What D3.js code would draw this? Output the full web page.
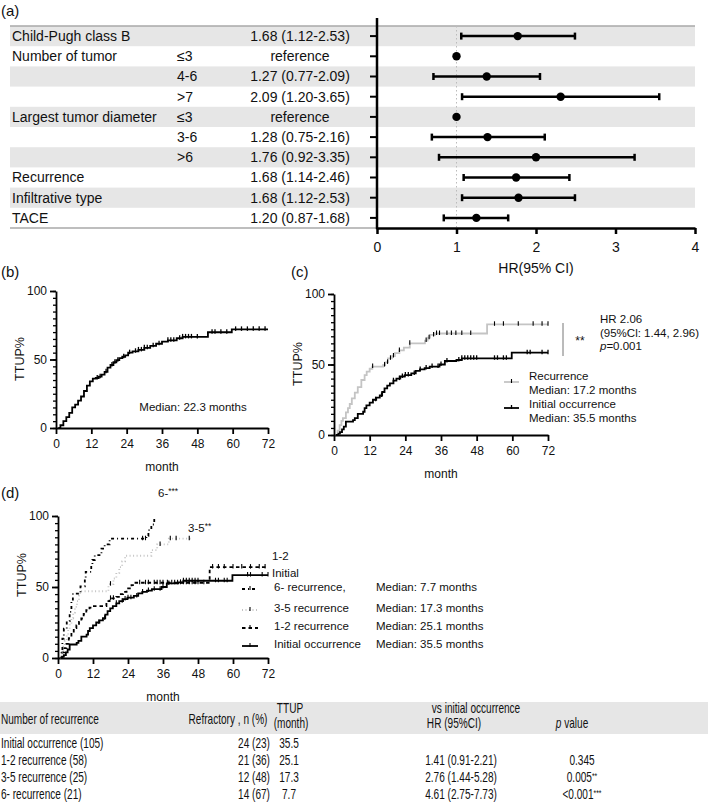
<!DOCTYPE html>
<html><head><meta charset="utf-8">
<script src="https://cdn.jsdelivr.net/npm/d3@7"></script>
<style>
body{margin:0;background:#fff;}
svg{display:block;font-family:"Liberation Sans",Arial,Helvetica,sans-serif;}
</style></head><body>
<script>
// ---------- DATA ----------
// (a) forest plot
const forestLabels = ["Child-Pugh class B","Number of tumor","","","Largest tumor diameter","","","Recurrence","Infiltrative type","TACE"];
const forestSub = ["","≤3","4-6",">7","≤3","3-6",">6","","",""];
const forestText = ["1.68 (1.12-2.53)","reference","1.27 (0.77-2.09)","2.09 (1.20-3.65)","reference","1.28 (0.75-2.16)","1.76 (0.92-3.35)","1.68 (1.14-2.46)","1.68 (1.12-2.53)","1.20 (0.87-1.68)"];
const forestHR = [1.77,1.00,1.38,2.31,1.00,1.39,2.00,1.75,1.78,1.25];
const forestLo = [1.06,null,0.71,1.07,null,0.69,0.78,1.09,1.07,0.84];
const forestHi = [2.49,null,2.05,3.55,null,2.11,3.24,2.42,2.49,1.65];
const forestTicks = [0,1,2,3,4];

// KM axes
const monthTicks = [0,12,24,36,48,60,72];
const pctTicks = [0,50,100];

// (b) all patients
const allMonths = [0.8,1.5,2.5,3.5,4.5,5.5,6.5,7.5,8.5,9.5,10.5,11.5,12.5,13.5,14.5,15.5,16.5,17.5,18.5,19.5,20.5,21.5,22.5,23.5,24.5,26,28,30,32,34,36,38,41,43,51.6,59.7,72];
const allValues = [0,2,5,8,11,15,17,20,23,27,31,34,36,36.5,37.5,39,41,44,46,48,49.5,51,52,53,55,56,57,58.5,60,61.5,63,64,65.5,66.5,69.9,72,72];
const allCensor = [14,15,17,19,20,21,23,25,27,28,29,30,31,33,35,38,39,40,42,43,44,45,46,48,53,54,56,58,61,63,65,67,69,71];

// (c) recurrence vs initial
const recMonths = [0.6,1.2,1.9,2.5,3,4,4.7,5.3,6,7,8,9.2,10.3,11,12,12.9,16.5,17.2,18.2,19.5,20.5,22,23.5,25.5,30.6,31.5,32.3,34,51.5,72];
const recValues = [0,3,7,10,12,16,19,22,26,30,34,39,42.5,45,47,48.5,49.6,51.5,54.4,56,58,60,62,65,67,69,71,72,78.5,78.5];
const recCensor = [13,17,18,19,20,22,25.5,31,32,33.5,34.5,35.5,38,39.5,41,43,46,54,57,62,67,70,72];
const initMonths = [0.6,1.5,2,2.7,3.3,4,6.4,7,8,9.8,10.3,10.9,12,13.1,14.2,15.4,16.2,17,17.9,18.8,20,21,22.3,23.8,26,27.5,28.9,30.5,32.2,35.5,37.3,41.2,43,59.8,72];
const initValues = [0,1,2,4,6,9.5,10.6,12,15,16.5,19,21,23,25,26.5,28,30.5,33,35,36.6,38.5,40,41.5,42.5,43.7,45.5,46.5,47.5,48.5,50,52.5,53.2,54.4,58.4,58.4];
const initCensor = [14,16,20,22,23,24,25,27,29,31,33,35,36,38,42,43,44,45,46,47,48,54,55,57,58,65,66,70,72];

// (d) by number of recurrence
const r6Months = [0.8,1.2,1.5,2,3,4,4.6,5.1,7.7,9.2,9.5,11.4,11.8,12.6,14.9,16,17.7,30.3,31,32,33];
const r6Values = [0,5.4,13.7,20.7,26,32.5,39.5,45.4,50.5,56,60.7,66,69,72.5,77,80,84,86,90,94,100];
const r6Censor = [29,30];
const r35Months = [0.8,1.2,1.8,2.3,3,3.5,4,4.6,5.2,5.8,6.5,7.2,7.6,16.5,17.3,19,20,21,22,23,31,32,34,38,46];
const r35Values = [0,4,8,12,16,20,24,28,32,36,40,44,47,47,52,56,60,64,68,72,72,76,80,84,84];
const r35Censor = [18,35,38.5,40.5,45];
const r12Months = [0.8,1.5,2.2,2.9,3.7,4.6,5.4,6.3,7.2,8,8.8,9.7,10.8,12,16.6,17.7,20,21.2,22.3,23.5,25.2,25.7,51.4,52,72];
const r12Values = [0,4,7,10,14,18,21,23,25.5,27.8,31,33.7,35.5,36.5,40,42,43,45,46.6,49,51.3,53,53,64,64];
const r12Censor = [18,19,28,30,31,33,34,35,36,37.5,39,40,41,42,43,44,45,46,47,48,50,53,55,57,60,63,66,69,71];

// table
const tableGroups = ["Initial occurrence (105)","1-2 recurrence (58)","3-5 recurrence (25)","6- recurrence (21)"];
const tableRefractory = ["24 (23)","21 (36)","12 (48)","14 (67)"];
const tableTTUP = ["35.5","25.1","17.3","7.7"];
const tableHR = ["","1.41 (0.91-2.21)","2.76 (1.44-5.28)","4.61 (2.75-7.73)"];
const tableP = ["","0.345","0.005","<0.001"];
const tableStars = ["","","**","***"];

// ---------- DRAW ----------
const svg = d3.select("body").append("svg").attr("width",708).attr("height",811);

function txt(g,x,y,s,o={}){
  const t=g.append("text").attr("x",x).attr("y",y).attr("dy","0.35em").text(s)
    .attr("font-size",o.size||14).attr("fill",o.fill||"#111");
  if(o.anchor) t.attr("text-anchor",o.anchor);
  if(o.style) t.attr("font-style",o.style);
  return t;
}
// condensed text (table)
const NX=0.72;
function txtN(g,x,y,s,o={}){
  const t=g.append("text").attr("transform",`translate(${x},${y}) scale(${NX},1)`).attr("dy","0.35em").text(s)
    .attr("font-size",o.size||14).attr("fill","#111");
  if(o.anchor) t.attr("text-anchor",o.anchor);
  return t;
}

// ----- (a) forest -----
const fa = svg.append("g");
txt(fa,1,11,"(a)",{size:15});
const fx = d3.scaleLinear().domain([0,4]).range([377,695]);
const fy = d3.scaleBand().domain(d3.range(forestLabels.length)).range([26,228]);
forestLabels.forEach((l,i)=>{
  if(i%2===0) fa.append("rect").attr("x",10).attr("y",fy(i)).attr("width",685).attr("height",fy.bandwidth()).attr("fill","#e6e6e6");
});
fa.append("line").attr("x1",10).attr("x2",695).attr("y1",26).attr("y2",26).attr("stroke","#a8a8a8").attr("stroke-width",1.5);
fa.append("line").attr("x1",10).attr("x2",377).attr("y1",228).attr("y2",228).attr("stroke","#a8a8a8").attr("stroke-width",1.5);
forestLabels.forEach((l,i)=>{
  const cy=fy(i)+fy.bandwidth()/2;
  if(l) txt(fa,12,cy,l);
  if(forestSub[i]) txt(fa,177,cy,forestSub[i]);
  txt(fa,300,cy,forestText[i],{anchor:"middle"});
});
fa.append("line").attr("x1",fx(1)).attr("x2",fx(1)).attr("y1",26).attr("y2",228).attr("stroke","#bbb").attr("stroke-dasharray","1.5,2.5").attr("stroke-width",1);
const fxAxis = fa.append("g").attr("transform","translate(0,228)").call(d3.axisBottom(fx).tickValues(forestTicks).tickFormat(d3.format("d")).tickSize(6).tickSizeOuter(0).tickPadding(8));
fxAxis.select(".domain").attr("stroke","#000").attr("stroke-width",2.5);
fxAxis.selectAll(".tick line").attr("stroke","#000").attr("stroke-width",2.5);
fxAxis.selectAll("text").attr("font-size",14).attr("font-family","Liberation Sans,Arial,sans-serif").attr("fill","#111");
txt(fa,fx(2),268,"HR(95% CI)",{anchor:"middle"});
const fyAxis = fa.append("g").attr("transform","translate(377,0)").call(d3.axisLeft(fy).tickSize(7).tickSizeOuter(0).tickFormat(""));
fyAxis.select(".domain").remove();
fyAxis.selectAll(".tick line").attr("stroke","#000").attr("stroke-width",2);
fa.append("line").attr("x1",377).attr("x2",377).attr("y1",18).attr("y2",229.25).attr("stroke","#000").attr("stroke-width",2.5);
forestHR.forEach((h,i)=>{
  const cy=fy(i)+fy.bandwidth()/2;
  if(forestLo[i]!=null){
    fa.append("line").attr("x1",fx(forestLo[i])).attr("x2",fx(forestHi[i])).attr("y1",cy).attr("y2",cy).attr("stroke","#000").attr("stroke-width",2.5);
    [forestLo[i],forestHi[i]].forEach(v=>fa.append("line").attr("x1",fx(v)).attr("x2",fx(v)).attr("y1",cy-3.5).attr("y2",cy+3.5).attr("stroke","#000").attr("stroke-width",2.5));
  }
  fa.append("circle").attr("cx",fx(h)).attr("cy",cy).attr("r",4.2).attr("fill","#000");
});

// ----- KM helper -----
function kmPanel(o){
  const g=svg.append("g");
  const x=d3.scaleLinear().domain([0,72]).range([o.x0,o.x1]);
  const y=d3.scaleLinear().domain([0,100]).range([o.yb,o.yt]);
  const minor=d3.range(0,101,5);
  const ya=g.append("g").attr("transform",`translate(${o.x0},0)`).call(d3.axisLeft(y).tickValues(minor).tickSize(3).tickSizeOuter(0).tickFormat(""));
  ya.select(".domain").remove();
  ya.selectAll(".tick line").attr("stroke","#000").attr("stroke-width",1.3);
  const yM=g.append("g").attr("transform",`translate(${o.x0},0)`).call(d3.axisLeft(y).tickValues(pctTicks).tickSize(6).tickSizeOuter(0).tickPadding(3));
  yM.select(".domain").attr("stroke","#000").attr("stroke-width",1.8);
  yM.selectAll(".tick line").attr("stroke","#000").attr("stroke-width",1.8);
  yM.selectAll("text").attr("font-size",12).attr("font-family","Liberation Sans,Arial,sans-serif").attr("fill","#111");
  const xa=g.append("g").attr("transform",`translate(0,${o.yb})`).call(d3.axisBottom(x).tickValues(monthTicks).tickSize(6).tickSizeOuter(0).tickPadding(5));
  xa.select(".domain").attr("stroke","#000").attr("stroke-width",1.8);
  xa.selectAll(".tick line").attr("stroke","#000").attr("stroke-width",1.8);
  xa.selectAll("text").attr("font-size",12).attr("font-family","Liberation Sans,Arial,sans-serif").attr("fill","#111");
  txt(g,(o.x0+o.x1)/2,o.yb+39,"month",{anchor:"middle",size:12});
  g.append("text").attr("transform",`translate(${o.x0-36},${o.ylab}) rotate(-90)`).attr("text-anchor","middle").attr("dy","0.35em").attr("font-size",12.5).attr("fill","#111").text("TTUP%");
  return {g,x,y};
}
function stepVal(ms,vs,m){let v=vs[0];for(let i=0;i<ms.length;i++){if(ms[i]<=m)v=vs[i];}return v;}
function curve(p,ms,vs,st){
  const line=d3.line().x(d=>p.x(d[0])).y(d=>p.y(d[1])).curve(d3.curveStepAfter);
  const pts=ms.map((m,i)=>[m,vs[i]]);
  p.g.append("path").attr("d",line(pts)).attr("fill","none").attr("stroke",st.color).attr("stroke-width",st.w||1.8).attr("stroke-dasharray",st.dash||null);
}
function censor(p,ms,vs,cs,color,w){
  cs.forEach(m=>{
    const v=stepVal(ms,vs,m);
    p.g.append("line").attr("x1",p.x(m)).attr("x2",p.x(m)).attr("y1",p.y(v)-3).attr("y2",p.y(v)+1.5).attr("stroke",color).attr("stroke-width",w||1.3);
  });
}

// ----- (b) -----
txt(svg,1,272,"(b)",{size:15});
const pb=kmPanel({x0:56,x1:268,yb:428,yt:291,ylab:359});
curve(pb,allMonths,allValues,{color:"#000"});
censor(pb,allMonths,allValues,allCensor,"#000");
txt(pb.g,193,407,"Median: 22.3 months",{anchor:"middle",size:11.5});

// ----- (c) -----
txt(svg,291,272,"(c)",{size:15});
const pc=kmPanel({x0:334,x1:548,yb:435,yt:294,ylab:364});
curve(pc,recMonths,recValues,{color:"#c4c4c4"});
censor(pc,recMonths,recValues,recCensor,"#000",1.1);
curve(pc,initMonths,initValues,{color:"#000"});
censor(pc,initMonths,initValues,initCensor,"#000");
pc.g.append("line").attr("x1",563).attr("x2",563).attr("y1",323).attr("y2",356).attr("stroke","#777").attr("stroke-width",1);
txt(pc.g,580,341,"**",{anchor:"middle",size:12});
txt(pc.g,600,319,"HR 2.06",{size:11.5});
txt(pc.g,600,333,"(95%Cl: 1.44, 2.96)",{size:11.5});
const pt=txt(pc.g,600,346,"",{size:11.5});
pt.append("tspan").attr("font-style","italic").text("p");
pt.append("tspan").text("=0.001");
pc.g.append("line").attr("x1",504).attr("x2",519).attr("y1",382).attr("y2",382).attr("stroke","#c4c4c4").attr("stroke-width",1.8);
pc.g.append("line").attr("x1",511.5).attr("x2",511.5).attr("y1",379).attr("y2",383).attr("stroke","#000").attr("stroke-width",1.1);
pc.g.append("line").attr("x1",504).attr("x2",519).attr("y1",408).attr("y2",408).attr("stroke","#000").attr("stroke-width",1.8);
pc.g.append("line").attr("x1",511.5).attr("x2",511.5).attr("y1",405).attr("y2",409).attr("stroke","#000").attr("stroke-width",1.3);
txt(pc.g,529,376,"Recurrence",{size:11.5});
txt(pc.g,529,390,"Median: 17.2 months",{size:11.5});
txt(pc.g,529,404,"Initial occurrence",{size:11.5});
txt(pc.g,529,418,"Median: 35.5 months",{size:11.5});

// ----- (d) -----
txt(svg,1,493,"(d)",{size:15});
const pd=kmPanel({x0:58,x1:268,yb:658,yt:516,ylab:575});
const styles=[
  {ms:initMonths,vs:initValues,cs:initCensor,color:"#000",dash:null,name:"Initial occurrence",med:"Median: 35.5 months"},
  {ms:r12Months,vs:r12Values,cs:r12Censor,color:"#000",dash:"3.5,3",name:"1-2 recurrence",med:"Median: 25.1 months"},
  {ms:r35Months,vs:r35Values,cs:r35Censor,color:"#c4c4c4",dash:"1,2.5",name:"3-5 recurrence",med:"Median: 17.3 months"},
  {ms:r6Months,vs:r6Values,cs:r6Censor,color:"#000",dash:"3,3,1,3",name:"6- recurrence,",med:"Median: 7.7 months"}
];
styles.forEach(s=>{curve(pd,s.ms,s.vs,{color:s.color,dash:s.dash});censor(pd,s.ms,s.vs,s.cs,"#000",1.1);});
const legY=[644,626,608,587];
styles.forEach((s,i)=>{
  const ly=legY[i];
  pd.g.append("line").attr("x1",242).attr("x2",258).attr("y1",ly+2).attr("y2",ly+2).attr("stroke",s.color).attr("stroke-width",1.8).attr("stroke-dasharray",s.dash);
  pd.g.append("line").attr("x1",250).attr("x2",250).attr("y1",ly-1).attr("y2",ly+3).attr("stroke","#000").attr("stroke-width",1.1);
  txt(pd.g,274,ly,s.name,{size:11.5});
  txt(pd.g,376,ly,s.med,{size:11.5});
});
txt(pd.g,272,556,"1-2",{size:11.5});
txt(pd.g,272,573,"Initial",{size:11.5});
const l6=txt(pd.g,158,493,"6-",{size:11.5});
l6.append("tspan").attr("dy","-3").attr("font-size",8.5).text("***");
const l35=txt(pd.g,188,528,"3-5",{size:11.5});
l35.append("tspan").attr("dy","-3").attr("font-size",8.5).text("**");

// ----- table -----
const tb=svg.append("g");
tb.append("rect").attr("x",0).attr("y",702).attr("width",708).attr("height",32).attr("fill","#e6e6e6");
txtN(tb,290,708,"TTUP",{anchor:"middle"});
txtN(tb,476,708,"vs initial occurrence",{anchor:"middle"});
txtN(tb,1,719,"Number of recurrence");
txtN(tb,228,719,"Refractory , n (%)",{anchor:"middle"});
txtN(tb,291,723,"(month)",{anchor:"middle"});
txtN(tb,454,723,"HR (95%CI)",{anchor:"middle"});
const pv=txtN(tb,572,723,"",{anchor:"middle"});
pv.append("tspan").attr("font-style","italic").text("p");
pv.append("tspan").text(" value");
const rowY=[743,760,777,794];
tableGroups.forEach((gname,i)=>{
  const yy=rowY[i];
  txtN(tb,1,yy,gname);
  txtN(tb,254,yy,tableRefractory[i],{anchor:"middle"});
  txtN(tb,289,yy,tableTTUP[i],{anchor:"middle"});
  if(tableHR[i]) txtN(tb,461,yy,tableHR[i],{anchor:"middle"});
  if(tableP[i]){
    const t=txtN(tb,582,yy,tableP[i],{anchor:"middle"});
    if(tableStars[i]) t.append("tspan").attr("dy","-3").attr("font-size",9.5).text(tableStars[i]);
  }
});
</script></body></html>
